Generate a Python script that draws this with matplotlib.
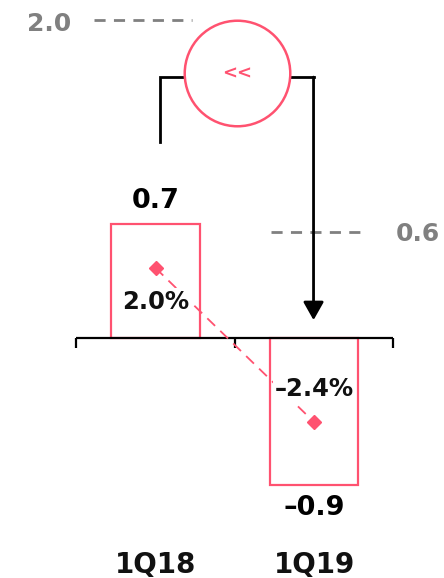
import matplotlib
matplotlib.use("Agg")
import matplotlib.pyplot as plt

categories = ["1Q18", "1Q19"]
values = [0.7, -0.9]
pct_values = [2.0, -2.4]
pct_labels = ["2.0%", "\u20132.4%"]
value_labels = ["0.7", "\u20130.9"]
ref_levels = [1.95, 0.65]
ref_labels = ["2.0", "0.6"]

PINK = "#ff5270"
GRAY = "#808080"
W, H = 444, 578

fig = plt.figure(figsize=(W / 100, H / 100), dpi=100)
ax = fig.add_axes([0, 0, 1, 1])
ax.set_xlim(-0.981, 1.820)
ax.set_ylim(-1.472, 2.074)
ax.axis("off")
ax2 = ax.twinx()
ax2.set_position([0, 0, 1, 1])
ax2.set_ylim(-6.857, 9.657)
ax2.axis("off")

x = list(range(len(categories)))
# bars
ax.bar(x, values, width=0.56, facecolor="white", edgecolor=PINK, linewidth=1.6, zorder=2)
# baseline and ticks
ax.plot([-0.5, 1.5], [0, 0], color="black", lw=1.6, zorder=4, solid_capstyle="butt")
ax.vlines([-0.5, 0.5, 1.5], -0.062, 0, color="black", lw=1.6, zorder=4)

# value labels
for xi, v, lab in zip(x, values, value_labels):
    off = 0.14 if v > 0 else -0.14
    ax.text(xi, v + off, lab, ha="center", va="center", fontsize=19.5,
            fontweight="bold", color="black", zorder=6)

# category labels
for xi, c in zip(x, categories):
    ax.text(xi, -1.39, c, ha="center", va="center", fontsize=20,
            fontweight="bold", color="#111111")

# percentage line with diamonds
ax2.plot(x, pct_values, color=PINK, lw=1.3, ls=(0, (6, 4)), zorder=3)
ax2.plot(x, pct_values, ls="none", marker="D", ms=7, color=PINK, zorder=5)
ax2.text(x[0], pct_values[0] - 0.97, pct_labels[0], ha="center", va="center",
         fontsize=17.5, fontweight="bold", color="#111111", zorder=6,
         bbox=dict(facecolor="white", edgecolor="none", pad=1.0))
ax2.text(x[1], pct_values[1] + 0.95, pct_labels[1], ha="center", va="center",
         fontsize=17.5, fontweight="bold", color="#111111", zorder=6,
         bbox=dict(facecolor="white", edgecolor="none", pad=1.0))

# reference dashed lines
ax.plot([-0.391, 0.230], [ref_levels[0]] * 2, color=GRAY, lw=2, ls=(0, (4, 3)))
ax.text(-0.530, ref_levels[0] - 0.025, ref_labels[0], ha="right", va="center",
        fontsize=18, fontweight="bold", color=GRAY)
ax.plot([0.729, 1.290], [ref_levels[1]] * 2, color=GRAY, lw=2, ls=(0, (4, 3)))
ax.text(1.518, ref_levels[1] - 0.01, ref_labels[1], ha="left", va="center",
        fontsize=18, fontweight="bold", color=GRAY)

# bracket with arrow
xl, xr = 0.028, 0.997
ytop = 1.601
ax.plot([xl, xl, xr], [1.202, ytop, ytop], color="black", lw=2, zorder=3,
        solid_joinstyle="miter")
ax.annotate("", xy=(xr, 0.11), xytext=(xr, ytop),
            arrowprops=dict(arrowstyle="-|>,head_length=0.55,head_width=0.31",
                            color="black", lw=2, mutation_scale=20,
                            shrinkA=0, shrinkB=0), zorder=3)
ax.plot([0.514], [1.626], marker="o", ms=76, mfc="white", mec=PINK, mew=1.8,
        zorder=7)
ax.text(0.514, 1.62, "<<", ha="center", va="center", fontsize=13,
        fontweight="bold", color=PINK, zorder=8)

fig.savefig("out.png", dpi=100)
